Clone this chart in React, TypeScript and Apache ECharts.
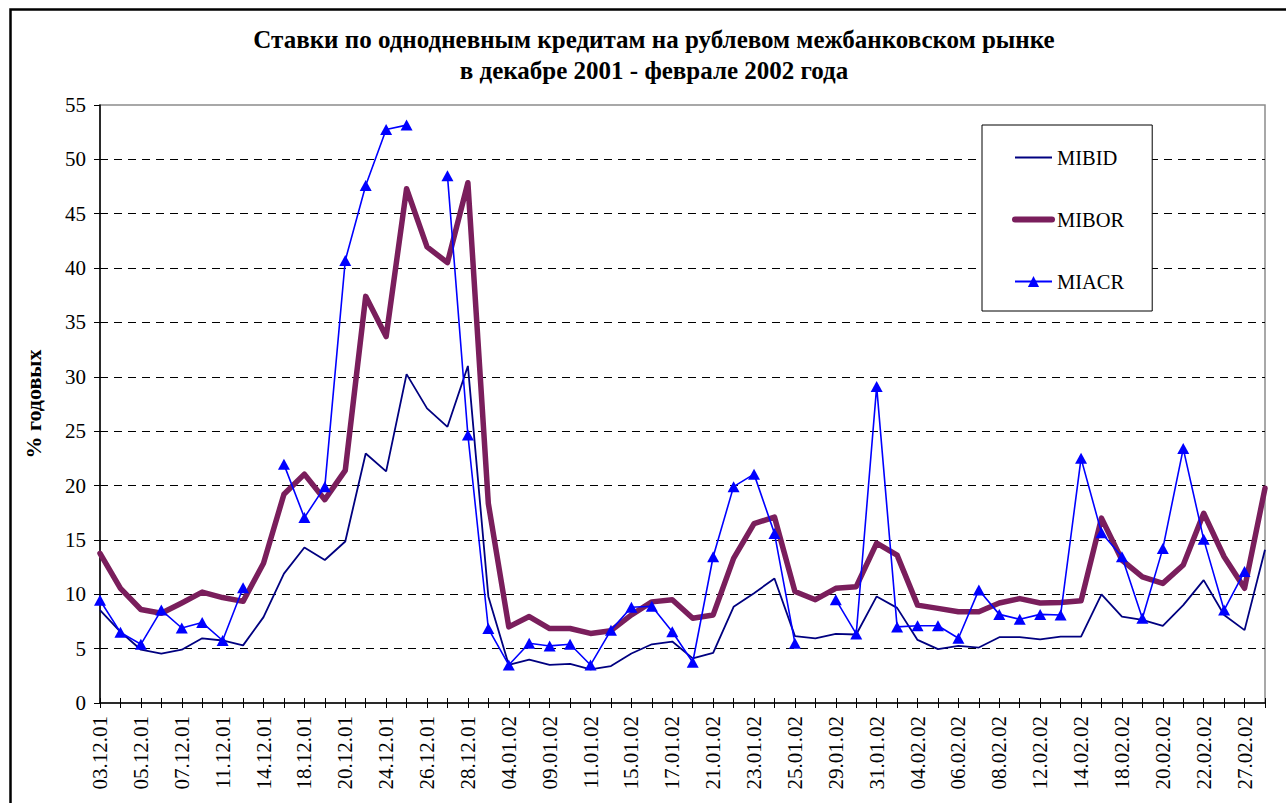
import React, { useEffect, useRef } from "react";
import * as echarts from "echarts";

const TITLE_LINE_1 = "Ставки по однодневным кредитам на рублевом межбанковском рынке";
const TITLE_LINE_2 = "в декабре 2001 - феврале 2002 года";
const Y_AXIS_NAME = "% годовых";

const DATES: string[] = [
  "03.12.01", "04.12.01", "05.12.01", "06.12.01", "07.12.01", "10.12.01", "11.12.01", "13.12.01",
  "14.12.01", "17.12.01", "18.12.01", "19.12.01", "20.12.01", "21.12.01", "24.12.01", "25.12.01",
  "26.12.01", "27.12.01", "28.12.01", "29.12.01",
  "04.01.02", "08.01.02", "09.01.02", "10.01.02", "11.01.02", "14.01.02", "15.01.02", "16.01.02",
  "17.01.02", "18.01.02", "21.01.02", "22.01.02", "23.01.02", "24.01.02", "25.01.02", "28.01.02",
  "29.01.02", "30.01.02", "31.01.02",
  "01.02.02", "04.02.02", "05.02.02", "06.02.02", "07.02.02", "08.02.02", "11.02.02", "12.02.02",
  "13.02.02", "14.02.02", "15.02.02", "18.02.02", "19.02.02", "20.02.02", "21.02.02", "22.02.02",
  "26.02.02", "27.02.02", "28.02.02",
];

const MIBID: number[] = [
  8.55, 6.55, 4.9, 4.55, 4.9, 5.95, 5.75, 5.3, 7.9, 11.9,
  14.3, 13.15, 14.85, 22.95, 21.3, 30.25, 27.1, 25.4, 31.0, 9.8,
  3.5, 4.0, 3.5, 3.6, 3.1, 3.4, 4.55, 5.4, 5.65, 4.1,
  4.6, 8.85, 10.1, 11.45, 6.15, 5.95, 6.35, 6.3, 9.8, 8.75,
  5.8, 4.95, 5.25, 5.1, 6.05, 6.05, 5.85, 6.1, 6.1, 10.0,
  7.95, 7.65, 7.1, 9.0, 11.3, 8.1, 6.7, 14.1,
];

const MIBOR: number[] = [
  13.77, 10.55, 8.6, 8.25, 9.2, 10.2, 9.7, 9.35, 12.85, 19.2,
  21.05, 18.7, 21.4, 37.4, 33.7, 47.3, 41.95, 40.5, 47.85, 18.35,
  7.0, 7.95, 6.85, 6.85, 6.4, 6.65, 8.1, 9.3, 9.5, 7.8,
  8.1, 13.3, 16.5, 17.1, 10.25, 9.5, 10.55, 10.7, 14.7, 13.6,
  9.0, 8.7, 8.4, 8.4, 9.2, 9.6, 9.2, 9.25, 9.4, 17.0,
  13.15, 11.6, 11.0, 12.7, 17.45, 13.45, 10.55, 19.75,
];

const MIACR: (number | null)[] = [
  9.45, 6.5, 5.4, 8.55, 6.9, 7.4, 5.75, 10.6, null, 21.95,
  17.05, 19.9, 40.7, 47.6, 52.75, 53.15, null, 48.5, 24.65, 6.85,
  3.5, 5.5, 5.25, 5.4, 3.5, 6.7, 8.8, 8.9, 6.55, 3.75,
  13.45, 19.9, 21.05, 15.6, 5.5, null, 9.5, 6.35, 29.1, 7.0,
  7.1, 7.1, 5.95, 10.4, 8.15, 7.7, 8.15, 8.1, 22.5, 15.65,
  13.45, 7.8, 14.2, 23.4, 15.05, 8.55, 12.1, null,
];

const FONT = "Liberation Serif";

export default function App() {
  const ref = useRef<HTMLDivElement>(null);

  useEffect(() => {
    if (!ref.current) return;
    const chart = echarts.init(ref.current, null, { renderer: "svg" });
    const option: any = {
      animation: false,
      backgroundColor: "#ffffff",
      textStyle: { fontFamily: FONT, color: "#000" },
      graphic: [
        {
          type: "rect",
          z: 100,
          shape: { x: 10.5, y: 9.5, width: 1400, height: 1000 },
          style: { fill: "none", stroke: "#000", lineWidth: 2.5 },
        },
        {
          type: "text",
          x: 654,
          y: 39,
          style: {
            text: TITLE_LINE_1,
            fontFamily: FONT,
            fontSize: 25,
            fontWeight: "bold",
            fill: "#000",
            textAlign: "center",
            textVerticalAlign: "middle",
          },
        },
        {
          type: "text",
          x: 654,
          y: 70,
          style: {
            text: TITLE_LINE_2,
            fontFamily: FONT,
            fontSize: 25,
            fontWeight: "bold",
            fill: "#000",
            textAlign: "center",
            textVerticalAlign: "middle",
          },
        },
      ],
      grid: {
        left: 100,
        right: 21,
        top: 105,
        bottom: 100,
        show: true,
        borderColor: "#8c8c8c",
        borderWidth: 1.5,
        backgroundColor: "#fff",
      },
      legend: {
        orient: "vertical",
        left: 982,
        top: 125,
        data: [
          { name: "MIBID", itemStyle: { opacity: 0 }, lineStyle: { width: 2 } },
          { name: "MIBOR", itemStyle: { opacity: 0 }, lineStyle: { width: 6, cap: "round" } },
          { name: "MIACR", lineStyle: { width: 2 } },
        ],
        backgroundColor: "#fff",
        borderColor: "#000",
        borderWidth: 1,
        padding: [22, 28, 19, 30],
        itemWidth: 37,
        itemHeight: 14,
        itemGap: 41,
        textStyle: { fontFamily: FONT, fontSize: 20.5, color: "#000", lineHeight: 20 },
      },
      xAxis: [
        {
          type: "category",
          data: DATES,
          boundaryGap: false,
          axisLine: { lineStyle: { color: "#000", width: 1.5 } },
          axisTick: { show: true, interval: 0, length: 5, lineStyle: { color: "#000" } },
          axisLabel: {
            interval: 1,
            rotate: 90,
            margin: 13,
            fontFamily: FONT,
            fontSize: 21,
            color: "#000",
          },
          splitLine: { show: false },
        },
        {
          type: "category",
          data: DATES,
          boundaryGap: false,
          position: "bottom",
          axisLine: { show: false },
          axisTick: { show: true, inside: true, interval: 0, length: 5, lineStyle: { color: "#000" } },
          axisLabel: { show: false },
          splitLine: { show: false },
        },
      ],
      yAxis: {
        type: "value",
        min: 0,
        max: 55,
        interval: 5,
        name: Y_AXIS_NAME,
        nameLocation: "middle",
        nameGap: 56,
        nameTextStyle: { fontFamily: FONT, fontSize: 22, fontWeight: "bold", color: "#000" },
        axisLine: { show: true, lineStyle: { color: "#000", width: 1.5 } },
        axisTick: { show: true, length: 6, lineStyle: { color: "#000" } },
        axisLabel: { margin: 14, fontFamily: FONT, fontSize: 21, color: "#000" },
        splitLine: {
          show: true,
          showMaxLine: false,
          showMinLine: false,
          lineStyle: { color: "#000", width: 1, type: [8, 6] },
        },
      },
      series: [
        {
          name: "MIBID",
          type: "line",
          data: MIBID,
          showSymbol: false,
          symbol: "none",
          lineStyle: { color: "#000080", width: 1.8 },
          itemStyle: { color: "#000080" },
          z: 2,
        },
        {
          name: "MIBOR",
          type: "line",
          data: MIBOR,
          showSymbol: false,
          symbol: "none",
          lineStyle: { color: "#7a1e5c", width: 5.5, join: "round", cap: "round" },
          itemStyle: { color: "#7a1e5c" },
          z: 3,
        },
        {
          name: "MIACR",
          type: "line",
          data: MIACR,
          connectNulls: false,
          symbol: "triangle",
          symbolSize: [12, 11],
          showAllSymbol: true,
          lineStyle: { color: "#0000ff", width: 1.6 },
          itemStyle: { color: "#0000ff" },
          z: 4,
        },
      ],
    };
    chart.setOption(option);
    return () => chart.dispose();
  }, []);

  return (
    <div
      ref={ref}
      style={{ position: "fixed", left: 0, top: 0, width: 1286, height: 803, background: "#fff" }}
    />
  );
}
